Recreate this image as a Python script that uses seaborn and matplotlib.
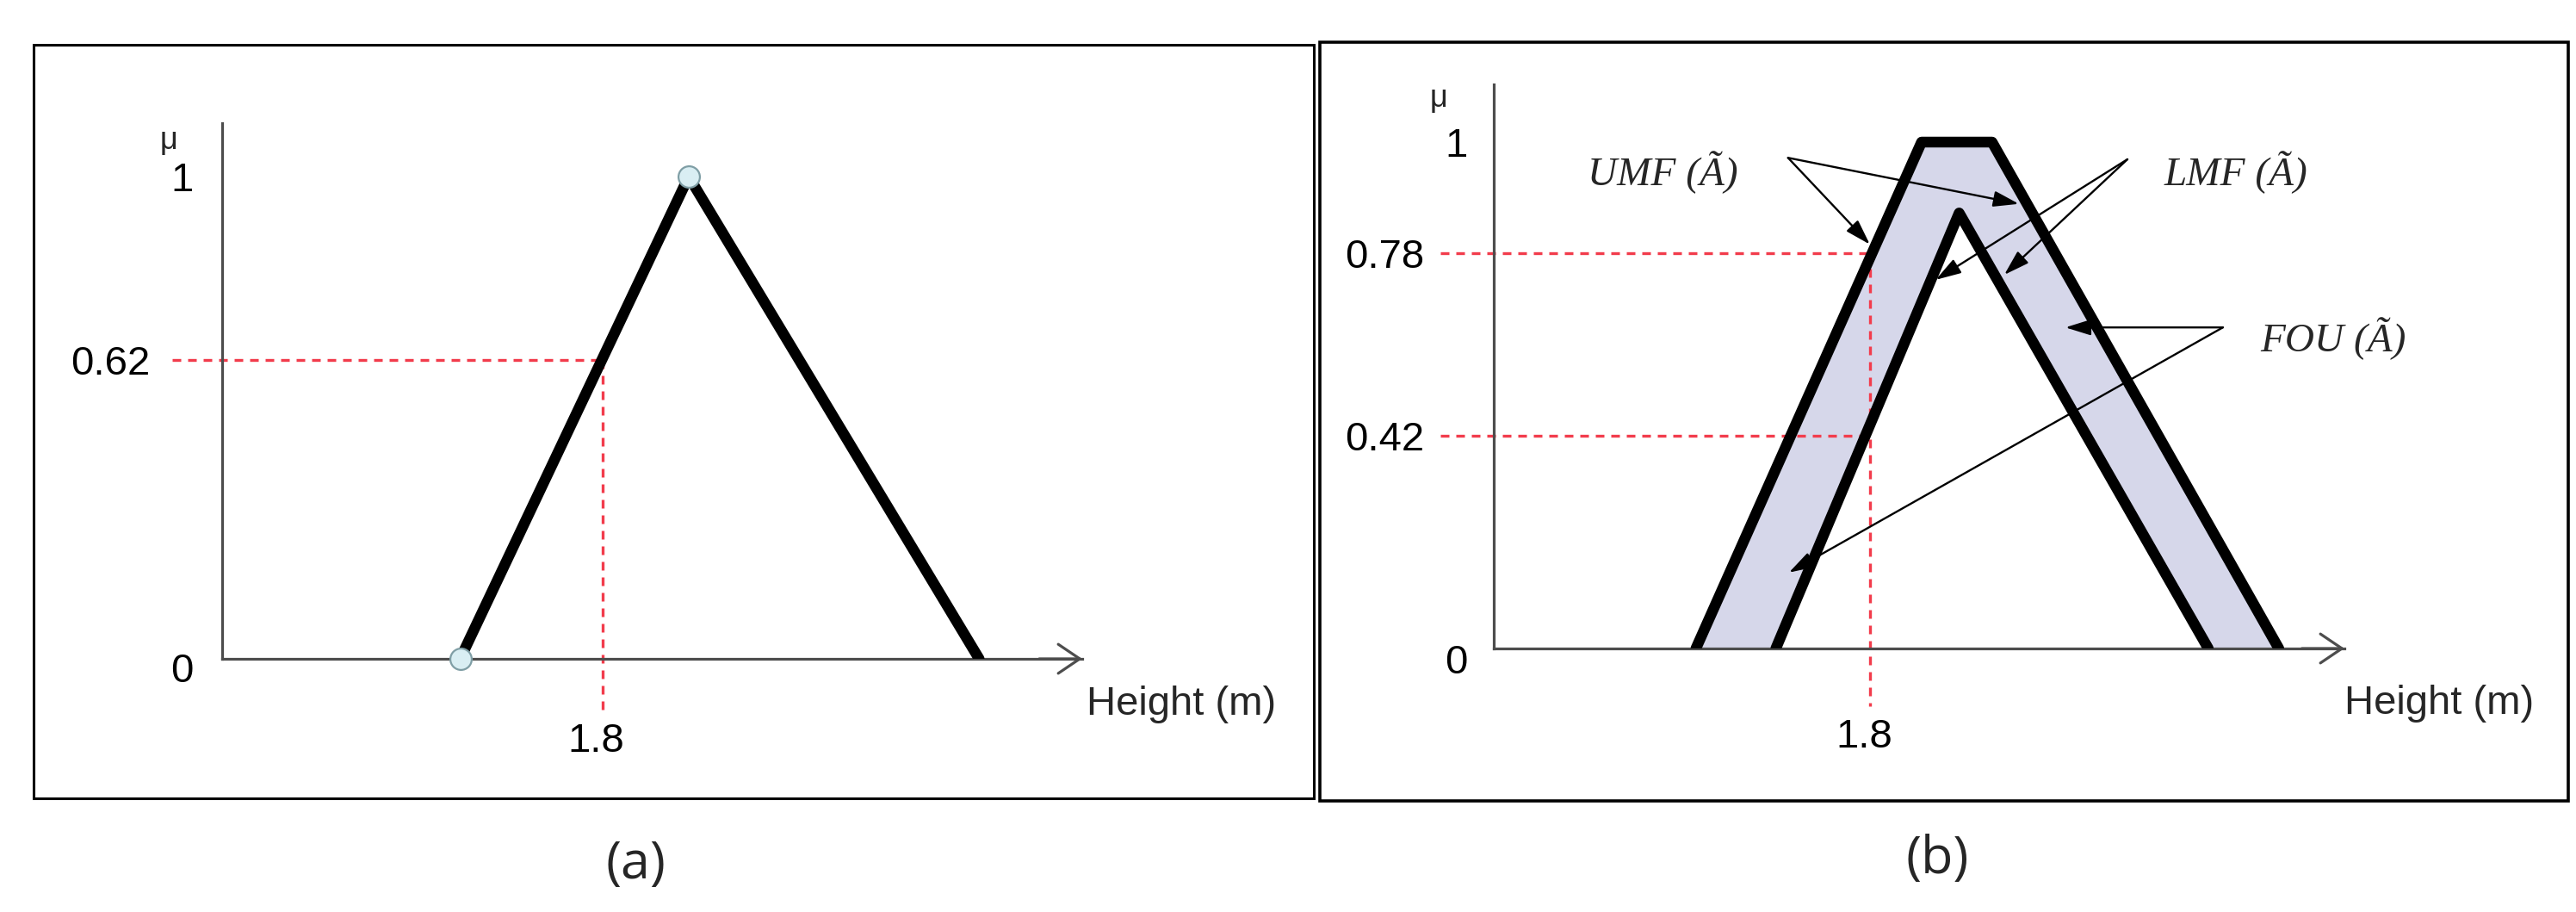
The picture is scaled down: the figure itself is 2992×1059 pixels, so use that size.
import numpy as np
import matplotlib
matplotlib.use("Agg")
import matplotlib.pyplot as plt
import seaborn as sns
from matplotlib import transforms
from matplotlib.patches import Rectangle

# ---------------- data ----------------
# Panel (a): type-1 triangular membership function of Height
tri_x = [1.50, 1.98, 2.59]
tri_y = [0.0, 1.0, 0.0]
a_ytick_vals = [0, 0.62, 1]
a_ytick_labels = ["0", "0.62", "1"]
a_xtick_vals = [1.8]
a_xtick_labels = ["1.8"]
a_mu_level = 0.62
a_height = 1.8

# Panel (b): interval type-2 membership function (UMF / LMF / FOU)
umf_x = [1.43, 1.91, 2.06, 2.67]
umf_y = [0.0, 1.0, 1.0, 0.0]
lmf_x = [1.60, 1.99, 2.52]
lmf_y = [0.0, 0.86, 0.0]
b_ytick_vals = [0, 0.42, 0.78, 1]
b_ytick_labels = ["0", "0.42", "0.78", "1"]
b_xtick_vals = [1.8]
b_xtick_labels = ["1.8"]
b_mu_levels = [0.78, 0.42]
b_height = 1.8

# annotations of panel (b)
ann_labels = ["UMF (Ã)", "LMF (Ã)", "FOU (Ã)"]
ann_text_x = [1.359, 2.579, 2.786]
ann_text_y = [0.94, 0.94, 0.612]
ann_start_x = [1.626, 2.348, 2.551]
ann_start_y = [0.969, 0.966, 0.634]
ann_end_x = [[1.800, 2.117], [1.940, 2.086], [2.216, 1.628]]
ann_end_y = [[0.798, 0.878], [0.728, 0.738], [0.634, 0.150]]

x_label = "Height (m)"
y_label = "μ"
captions = ["(a)", "(b)"]

# ---------------- style ----------------
sns.set_theme(style="white")
plt.rcParams["font.family"] = ["Liberation Sans", "DejaVu Sans"]

FW, FH = 2992, 1059
DPI = 100
fig = plt.figure(figsize=(FW / DPI, FH / DPI), dpi=DPI)
fig.patch.set_facecolor("white")

AXIS_COLOR = "#4d4d4d"
RED = "#f23c4c"
FILL = "#d6d7ea"
TXT = 34
LW = 9.0
DASH_LW = 2.4
DASHES = (3.0, 2.4)


def rect_px(left, right, bottom, top):
    return [left / FW, 1 - bottom / FH, (right - left) / FW, (bottom - top) / FH]


def shift(lbl, dx, dy):
    lbl.set_transform(lbl.get_transform() +
                      transforms.ScaledTranslation(dx / DPI, dy / DPI, fig.dpi_scale_trans))


def base_axes(ax, xmax, ymax):
    ax.set_xlim(1.0, xmax)
    ax.set_ylim(0, ymax)
    ax.set_facecolor("none")
    sns.despine(ax=ax)
    for s in ["left", "bottom"]:
        ax.spines[s].set_color(AXIS_COLOR)
        ax.spines[s].set_linewidth(2.3)
    ax.tick_params(length=0, labelsize=TXT, colors="black")
    ax.annotate("", xy=(1.0, 0), xytext=(0.95, 0), xycoords="axes fraction",
                arrowprops=dict(arrowstyle="->,head_length=0.4,head_width=0.27",
                                lw=2.3, color=AXIS_COLOR, mutation_scale=45,
                                shrinkA=0, shrinkB=0),
                annotation_clip=False)


# ---------------- panel boxes ----------------
fig.add_artist(Rectangle((39 / FW, 1 - 927 / FH), (1526 - 39) / FW, (927 - 52) / FH,
                         transform=fig.transFigure, fill=False, ec="black", lw=2.2))
fig.add_artist(Rectangle((1533 / FW, 1 - 930 / FH), (2983 - 1533) / FW, (930 - 49) / FH,
                         transform=fig.transFigure, fill=False, ec="black", lw=2.6))

# ---------------- panel (a) ----------------
ax_a_xmax = 1.0 + 999 / 553
ax_a_ymax = 1.11
ax_a = fig.add_axes(rect_px(258, 1257, 765, 765 - ax_a_ymax * 560))
base_axes(ax_a, ax_a_xmax, ax_a_ymax)

# red dashed guides
ax_a.plot([0.895, a_height], [a_mu_level, a_mu_level], color=RED, lw=DASH_LW,
          dashes=DASHES, clip_on=False, zorder=2)
ax_a.plot([a_height, a_height], [a_mu_level, -0.1125], color=RED, lw=DASH_LW,
          dashes=DASHES, clip_on=False, zorder=2)

sns.lineplot(x=tri_x, y=tri_y, sort=False, estimator=None, color="black",
             lw=LW, ax=ax_a, zorder=3, solid_joinstyle="round")
sns.scatterplot(x=tri_x[:2], y=tri_y[:2], s=320, color="#d9eef3",
                edgecolor="#7f9ea5", linewidth=1.6, ax=ax_a, zorder=5, clip_on=False)

ax_a.set_yticks(a_ytick_vals, a_ytick_labels)
ax_a.set_xticks(a_xtick_vals, a_xtick_labels)
ax_a.tick_params(axis="y", pad=24)
ax_a.tick_params(axis="x", pad=53)
yl = ax_a.get_yticklabels()
shift(yl[0], 0, -10)
shift(yl[1], -50, 0)
for l in ax_a.get_xticklabels():
    shift(l, -8, 0)

ax_a.set_xlabel(x_label, fontsize=TXT)
ax_a.xaxis.label.set_verticalalignment("center")
ax_a.xaxis.set_label_coords(1.115, -0.0845)
ax_a.set_ylabel(y_label, fontsize=26, rotation=0, ha="center", va="center")
ax_a.yaxis.set_label_coords(-0.062, 0.967)

# ---------------- panel (b) ----------------
ax_b_xmax = 1.0 + 988 / 546
ax_b_ymax = 1.114
ax_b = fig.add_axes(rect_px(1735, 2723, 753, 753 - ax_b_ymax * 588))
base_axes(ax_b, ax_b_xmax, ax_b_ymax)

# footprint of uncertainty
xs = np.linspace(umf_x[0], umf_x[-1], 800)
upper = np.interp(xs, umf_x, umf_y)
lower = np.interp(xs, lmf_x, lmf_y, left=0.0, right=0.0)
ax_b.fill_between(xs, lower, upper, color=FILL, lw=0, zorder=1)

for lev in b_mu_levels:
    ax_b.plot([0.886, b_height], [lev, lev], color=RED, lw=DASH_LW,
              dashes=DASHES, clip_on=False, zorder=2)
ax_b.plot([b_height, b_height], [max(b_mu_levels), -0.114], color=RED, lw=DASH_LW,
          dashes=DASHES, clip_on=False, zorder=2)

sns.lineplot(x=umf_x, y=umf_y, sort=False, estimator=None, color="black",
             lw=LW, ax=ax_b, zorder=3, solid_joinstyle="round")
sns.lineplot(x=lmf_x, y=lmf_y, sort=False, estimator=None, color="black",
             lw=LW, ax=ax_b, zorder=3, solid_joinstyle="round")

for lab, tx, ty, sx, sy, exs, eys in zip(ann_labels, ann_text_x, ann_text_y,
                                         ann_start_x, ann_start_y, ann_end_x, ann_end_y):
    ax_b.text(tx, ty, lab, family=["Liberation Serif", "DejaVu Serif"], style="italic",
              fontsize=34, ha="center", va="center", zorder=6, clip_on=False)
    for ex, ey in zip(exs, eys):
        ax_b.annotate("", xy=(ex, ey), xytext=(sx, sy),
                      arrowprops=dict(arrowstyle="-|>,head_length=0.9,head_width=0.28",
                                      color="black", lw=1.7, shrinkA=0, shrinkB=0,
                                      mutation_scale=20),
                      zorder=4, annotation_clip=False)

ax_b.set_yticks(b_ytick_vals, b_ytick_labels)
ax_b.set_xticks(b_xtick_vals, b_xtick_labels)
ax_b.tick_params(axis="y", pad=22)
ax_b.tick_params(axis="x", pad=58)
yl = ax_b.get_yticklabels()
shift(yl[0], 0, -12)
shift(yl[1], -50, 0)
shift(yl[2], -50, 0)
for l in ax_b.get_xticklabels():
    shift(l, -7, 0)

ax_b.set_xlabel(x_label, fontsize=TXT)
ax_b.xaxis.label.set_verticalalignment("center")
ax_b.xaxis.set_label_coords(1.111, -0.0977)
ax_b.set_ylabel(y_label, fontsize=26, rotation=0, ha="center", va="center")
ax_b.yaxis.set_label_coords(-0.065, 0.974)

# ---------------- captions ----------------
fig.text(739 / FW, 1 - 1004 / FH, captions[0], ha="center", va="center",
         family=["Open Sans", "DejaVu Sans"], fontsize=44)
fig.text(2250 / FW, 1 - 998 / FH, captions[1], ha="center", va="center",
         family=["Open Sans", "DejaVu Sans"], fontsize=44)

fig.savefig("out.png", dpi=DPI, facecolor="white")
